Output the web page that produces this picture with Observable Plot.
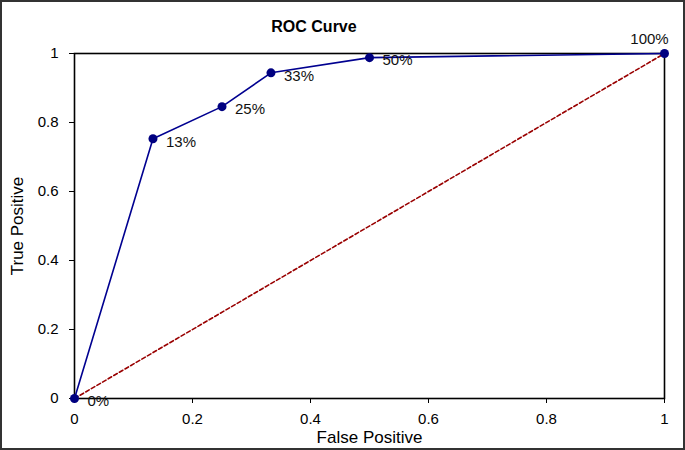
<!DOCTYPE html>
<html>
<head>
<meta charset="utf-8">
<script src="https://cdn.jsdelivr.net/npm/d3@7"></script>
<script src="https://cdn.jsdelivr.net/npm/@observablehq/plot@0.6"></script>
<style>
  body { margin: 0; background: #fff; }
  #wrap { position: relative; width: 685px; height: 450px; font-family: "Liberation Sans", Arial, sans-serif; }
  #border { position: absolute; left: 0; top: 0; width: 685px; height: 450px; box-sizing: border-box; border: 2px solid #333; pointer-events: none; }
  #title { position: absolute; top: 18px; left: 0; width: 628px; text-align: center; font-weight: bold; font-size: 16px; color: #000; }
  svg { display: block; }
</style>
</head>
<body>
<div id="wrap">
  <div id="chart"></div>
  <div id="title">ROC Curve</div>
  <div id="border"></div>
</div>
<script>
const falsePositive = [0, 0.133, 0.25, 0.333, 0.5, 1];
const truePositive = [0, 0.753, 0.846, 0.944, 0.988, 1];
const pointLabels = ["0%", "13%", "25%", "33%", "50%", "100%"];
const chanceX = [0, 1];
const chanceY = [0, 1];
const tickValues = [0, 0.2, 0.4, 0.6, 0.8, 1];

const roc = falsePositive.map((x, i) => ({x, y: truePositive[i], label: pointLabels[i]}));
const chance = chanceX.map((x, i) => ({x, y: chanceY[i]}));
const lastIdx = roc.length - 1;
const fmt = d => String(d);

const plot = Plot.plot({
  width: 685,
  height: 450,
  marginLeft: 74,
  marginRight: 21,
  marginTop: 53,
  marginBottom: 52,
  style: { fontFamily: "Liberation Sans, Arial, sans-serif", fontSize: "15px", color: "#000", background: "#fff" },
  x: { domain: [0, 1] },
  y: { domain: [0, 1] },
  marks: [
    Plot.axisX({ ticks: tickValues, tickFormat: fmt, tickSize: 5, tickPadding: 10, fontSize: 15, label: null }),
    Plot.axisY({ ticks: tickValues, tickFormat: fmt, tickSize: 5, tickPadding: 11, fontSize: 15, label: null }),
    Plot.text(["False Positive"], { frameAnchor: "bottom", dy: 44, fontSize: 17, text: d => d, lineAnchor: "bottom" }),
    Plot.text(["True Positive"], { frameAnchor: "left", dx: -57, rotate: -90, textAnchor: "middle", fontSize: 17, text: d => d }),
    Plot.frame({ stroke: "#000", strokeWidth: 1.6 }),
    Plot.line(chance, { x: "x", y: "y", stroke: "#990000", strokeWidth: 1.6, strokeDasharray: "4,2.5" }),
    Plot.line(roc, { x: "x", y: "y", stroke: "#000090", strokeWidth: 1.6 }),
    Plot.dot(roc, { x: "x", y: "y", r: 4.5, fill: "#000080", stroke: "none" }),
    Plot.text(roc.slice(0, lastIdx), { x: "x", y: "y", text: "label", textAnchor: "start", dx: 13, dy: 3, fontSize: 15, fill: "#111" }),
    Plot.text(roc.slice(lastIdx), { x: "x", y: "y", text: "label", textAnchor: "middle", dx: -15, dy: -14, fontSize: 15, fill: "#111" })
  ]
});
document.getElementById("chart").appendChild(plot);
</script>
</body>
</html>
